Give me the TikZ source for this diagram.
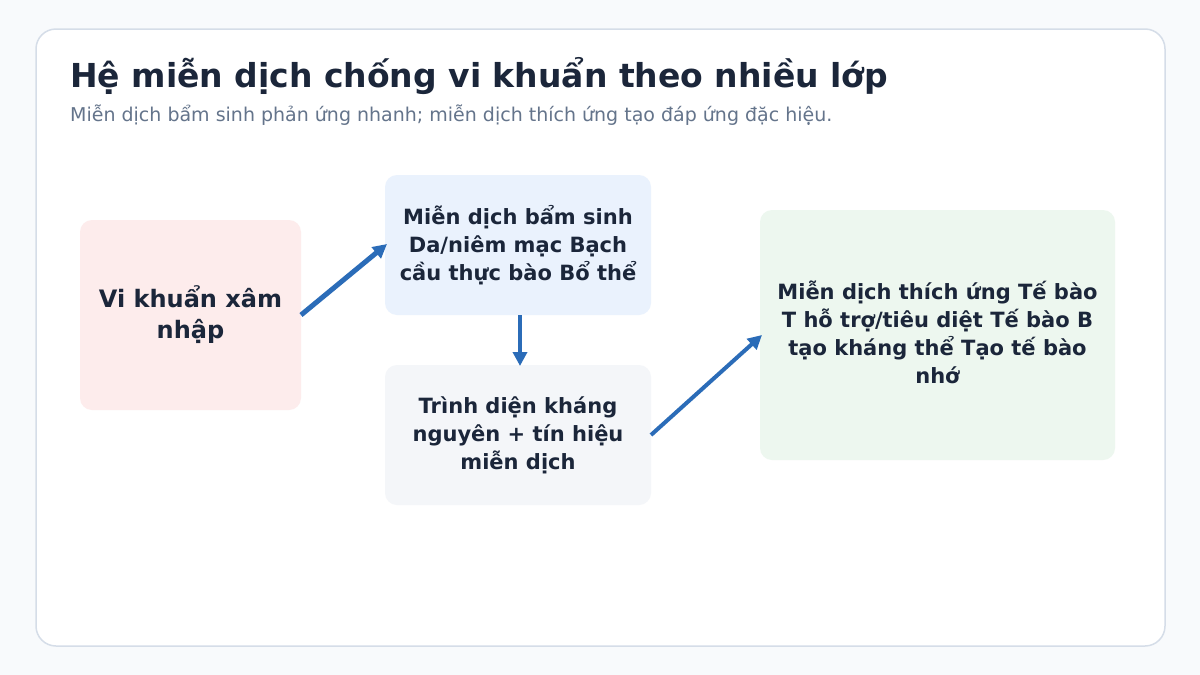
\documentclass[tikz,border=0pt]{standalone}
\usepackage{fontspec}
\setmainfont{DejaVu Sans}
\usetikzlibrary{arrows.meta}
\definecolor{bgc}{HTML}{F8FAFC}
\definecolor{framec}{HTML}{D5DDE8}
\definecolor{titlec}{HTML}{1B263A}
\definecolor{subc}{HTML}{64748B}
\definecolor{fillA}{HTML}{FDECEC}
\definecolor{fillB}{HTML}{EAF2FD}
\definecolor{fillC}{HTML}{F4F6F9}
\definecolor{fillD}{HTML}{EDF7EF}
\definecolor{arrc}{HTML}{2B6CB8}
\begin{document}
\begin{tikzpicture}[x=1pt,y=-1pt,
  boxst/.style={draw=none,rounded corners=12pt,inner sep=0pt,align=center,text=titlec,font=\bfseries\fontsize{21}{28}\selectfont},
  conn/.style={draw=arrc,line width=4pt,-{Triangle[length=14pt,width=14pt]}}]
\useasboundingbox (0,0) rectangle (1200,675);
\fill[bgc] (0,0) rectangle (1200,675);
\draw[framec,fill=white,line width=1.5pt,rounded corners=20pt] (36,29) rectangle (1165,646);
\node[anchor=base west,text=titlec,font=\bfseries\fontsize{33}{38}\selectfont,inner sep=0pt] (title) at (70,87) {Hệ miễn dịch chống vi khuẩn theo nhiều lớp};
\node[anchor=base west,text=subc,font=\fontsize{19}{23}\selectfont,inner sep=0pt] (sub) at (70,121) {Miễn dịch bẩm sinh phản ứng nhanh; miễn dịch thích ứng tạo đáp ứng đặc hiệu.};
\path[fill=fillA,rounded corners=12pt] (80,220) rectangle (301,410);
\path[fill=fillB,rounded corners=12pt] (385,175) rectangle (651,315);
\path[fill=fillC,rounded corners=12pt] (385,365) rectangle (651,505);
\path[fill=fillD,rounded corners=12pt] (760,210) rectangle (1115,460);
\coordinate (Ae) at (301,315);
\coordinate (Bw) at (387,244);
\coordinate (Bs) at (520,315);
\coordinate (Cn) at (520,366);
\coordinate (Ce) at (651,435);
\coordinate (Dw) at (762,335);
\node[boxst,font=\bfseries\fontsize{24}{31}\selectfont] (A) at (190.5,315) {Vi khuẩn xâm\\nhập};
\node[boxst] (B) at (518,245) {Miễn dịch bẩm sinh\\Da/niêm mạc Bạch\\cầu thực bào Bổ thể};
\node[boxst] (C) at (518,435) {Trình diện kháng\\nguyên + tín hiệu\\miễn dịch};
\node[boxst] (D) at (937.5,332) {Miễn dịch thích ứng Tế bào\\T hỗ trợ/tiêu diệt Tế bào B\\tạo kháng thể Tạo tế bào\\nhớ};
\draw[conn,line width=5pt] (Ae) -- (Bw);
\draw[conn,line width=4.5pt] (Bs) -- (Cn);
\draw[conn] (Ce) -- (Dw);
\end{tikzpicture}
\end{document}
